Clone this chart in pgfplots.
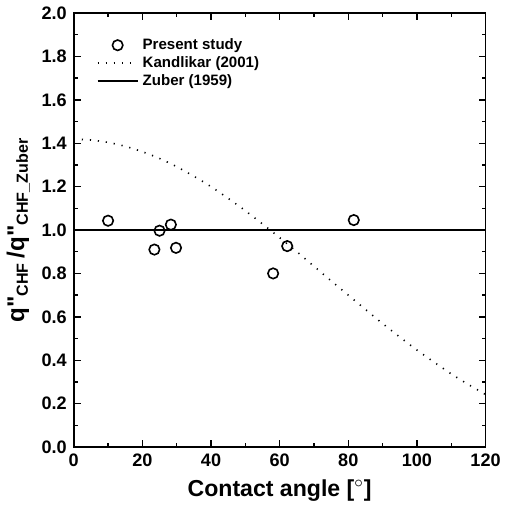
\documentclass[border=0pt]{standalone}
\usepackage{pgfplots}
\pgfplotsset{compat=1.18}
\usepackage{fontspec}
\setmainfont{Liberation Sans}
\newfontfamily\plainsans{Liberation Sans}
\begin{document}
\begin{tikzpicture}
\begin{axis}[
  scale only axis,
  width=205pt, height=216pt,
  xmin=0, xmax=120, ymin=0, ymax=2.0,
  xtick={0,20,...,120}, minor xtick={10,30,...,110},
  ytick={0,0.2,...,2.0}, minor ytick={0.1,0.3,...,1.9},
  tick align=inside,
  major tick length=3.5pt, minor tick length=2pt,
  every tick/.style={black, line width=0.7pt},
  axis line style={line width=0.8pt},
  /pgf/number format/assume math mode=true,
  /pgf/number format/fixed, /pgf/number format/fixed zerofill,
  xticklabel style={/pgf/number format/precision=0, font=\fontsize{9}{10}\selectfont\bfseries},
  yticklabel style={/pgf/number format/precision=1, font=\fontsize{9}{10}\selectfont\bfseries},
  xlabel={Contact angle [$^\circ$]},
  xlabel style={font=\fontsize{11.5}{13}\selectfont\bfseries, yshift=0.5pt},
  ylabel={q"\textsubscript{CHF}\,/q"\textsubscript{CHF\_Zuber}},
  ylabel style={font=\plainsans\fontsize{12}{14}\selectfont\bfseries, yshift=-1pt},
  legend style={at={(0.04,0.955)}, anchor=north west, draw=none, fill=none,
    font=\fontsize{7.5}{8.5}\selectfont\bfseries, row sep=0.8pt, nodes={inner ysep=0.6pt}},
  legend cell align=left,
  legend image code/.code={\draw[#1] (0cm,0cm) -- (0.7cm,0cm);},
]
\addplot[only marks, mark=o, mark size=2.6pt, mark options={line width=0.8pt}, black,
  legend image code/.code={\draw[mark repeat=2,mark phase=2,##1] plot coordinates {(0cm,0cm) (0.35cm,0cm) (0.7cm,0cm)};}]
coordinates {
(10,1.043) (25,0.997) (28.3,1.025) (23.5,0.91) (29.8,0.918) (58.1,0.80) (62.2,0.926) (81.6,1.046)
};
\addlegendentry{Present study}
\addplot[black, line width=0.8pt, dash pattern=on 0.6pt off 3.4pt, smooth] coordinates {
(0,1.419) (5,1.415) (10,1.404) (15,1.386) (20,1.361) (25,1.330) (30,1.292) (35,1.248)
(40,1.200) (45,1.146) (50,1.089) (55,1.028) (60,0.965) (65,0.900) (70,0.833) (75,0.766)
(80,0.700) (85,0.634) (90,0.569) (95,0.507) (100,0.447) (105,0.391) (110,0.337) (115,0.288) (120,0.242)
};
\addlegendentry{Kandlikar (2001)}
\addplot[black, line width=1pt] coordinates {(0,1) (120,1)};
\addlegendentry{Zuber (1959)}
\end{axis}
\end{tikzpicture}
\end{document}
